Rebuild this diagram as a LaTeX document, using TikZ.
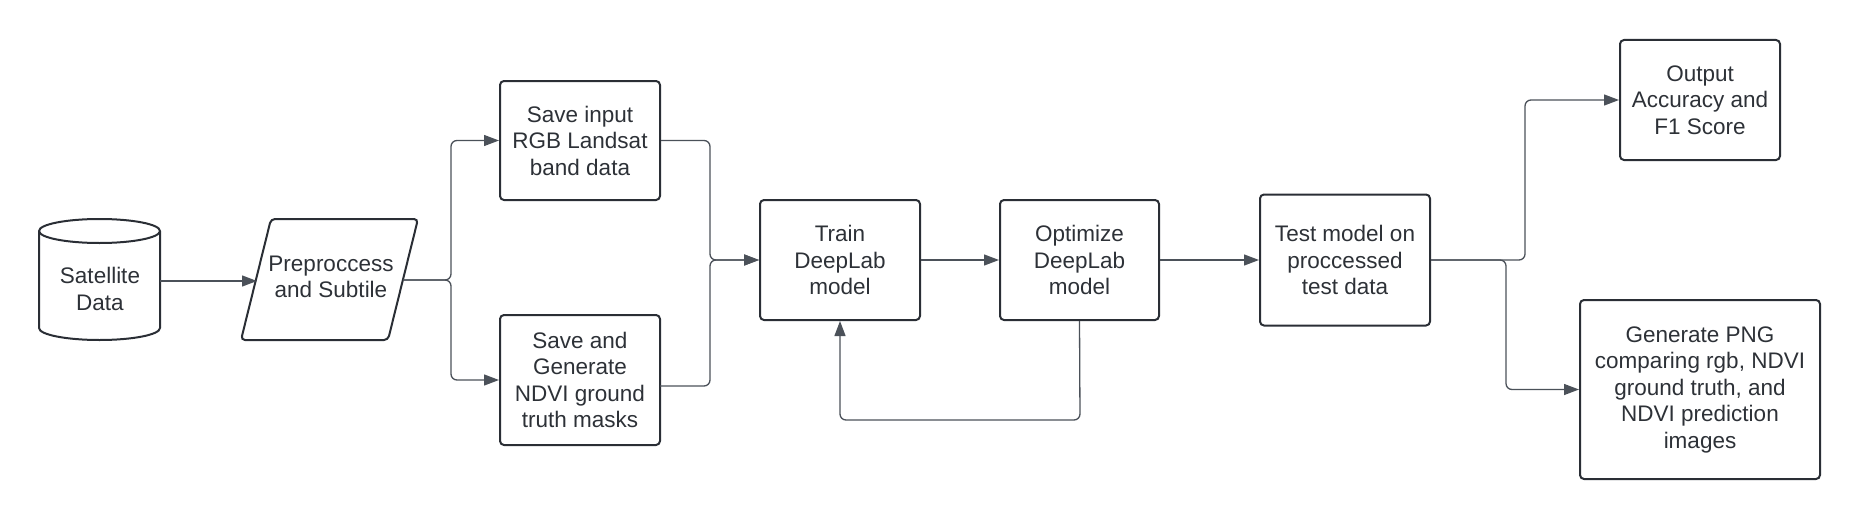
\documentclass[tikz,border=0pt]{standalone}
\usepackage{fontspec}
\setmainfont{Liberation Sans}
\usetikzlibrary{arrows.meta,calc}
\definecolor{boxclr}{RGB}{42,46,53}
\definecolor{lineclr}{RGB}{75,81,89}
\definecolor{txtclr}{RGB}{45,49,55}
\tikzset{
  boxline/.style={draw=boxclr, line width=2pt, rounded corners=4pt},
  stepbox/.style={boxline, rectangle, align=center, inner sep=0pt, text=txtclr,
    font=\fontsize{22.5}{26.5}\selectfont},
  lbl/.style={align=center, inner sep=0pt, text=txtclr, font=\fontsize{22.5}{26.5}\selectfont},
  conn/.style={draw=lineclr, line width=1.3pt, rounded corners=6pt},
  arr/.style={conn, -{Triangle[length=15pt,width=11pt]}}
}
\begin{document}
\begin{tikzpicture}[x=1pt,y=1pt]
\useasboundingbox (0,0) rectangle (1860,-519);
% cylinder
\draw[boxline, rounded corners=0pt] (39,-231) -- (39,-328) arc[start angle=180,end angle=360,x radius=60.5,y radius=12] -- (160,-231) arc[start angle=0,end angle=180,x radius=60.5,y radius=12] -- cycle;
\draw[boxline, rounded corners=0pt] (39,-231) arc[start angle=180,end angle=360,x radius=60.5,y radius=12];
\node[lbl] (sat) at (100,-289) {Satellite\\Data};
\coordinate (satE) at (160,-281);
% parallelogram
\draw[boxline] (271,-219) -- (418,-219) -- (388,-340) -- (241,-340) -- cycle;
\node[lbl] (pre) at (331,-277) {Preproccess\\and Subtile};
\coordinate (preW) at (257,-281);
\coordinate (preE) at (403,-280);
% boxes
\node[stepbox, minimum width=160, minimum height=119] (top) at (580,-140.5) {Save input\\RGB Landsat\\band data};
\node[stepbox, minimum width=160, minimum height=130] (bot) at (580,-380) {Save and\\Generate\\NDVI ground\\truth masks};
\node[stepbox, minimum width=160, minimum height=120] (train) at (840,-260) {Train\\DeepLab\\model};
\node[stepbox, minimum width=159, minimum height=120] (opt) at (1079.5,-260) {Optimize\\DeepLab\\model};
\node[stepbox, minimum width=170, minimum height=131] (test) at (1345,-260) {Test model on\\proccessed\\test data};
\node[stepbox, minimum width=160, minimum height=120] (out) at (1700,-100) {Output\\Accuracy and\\F1 Score};
\node[stepbox, minimum width=240, minimum height=179] (png) at (1700,-389.5) {Generate PNG\\comparing rgb, NDVI\\ground truth, and\\NDVI prediction\\images};
% junction coordinates
\coordinate (j1) at (451,-280);
\coordinate (j2) at (710,-260);
\coordinate (botE) at (660,-386);
\coordinate (j3) at (1525,-260);
\coordinate (j4) at (1506,-260);
\coordinate (loopR) at (1080,-420);
% connectors
\draw[arr] (satE) -- (preW);
\draw[arr] (preE) -- (j1) |- (top.west);
\draw[arr] (preE) -- (j1) |- (bot.west);
\draw[arr] (top.east) -| (j2) -- (train.west);
\draw[arr] (botE) -| (j2) -- (train.west);
\draw[arr] (train.east) -- (opt.west);
\draw[arr] (opt.south) -- (loopR) -| (train.south);
\draw[arr] (opt.east) -- (test.west);
\draw[arr] (test.east) -- (j3) |- (out.west);
\draw[arr] (test.east) -- (j4) |- (png.west);
\end{tikzpicture}
\end{document}
